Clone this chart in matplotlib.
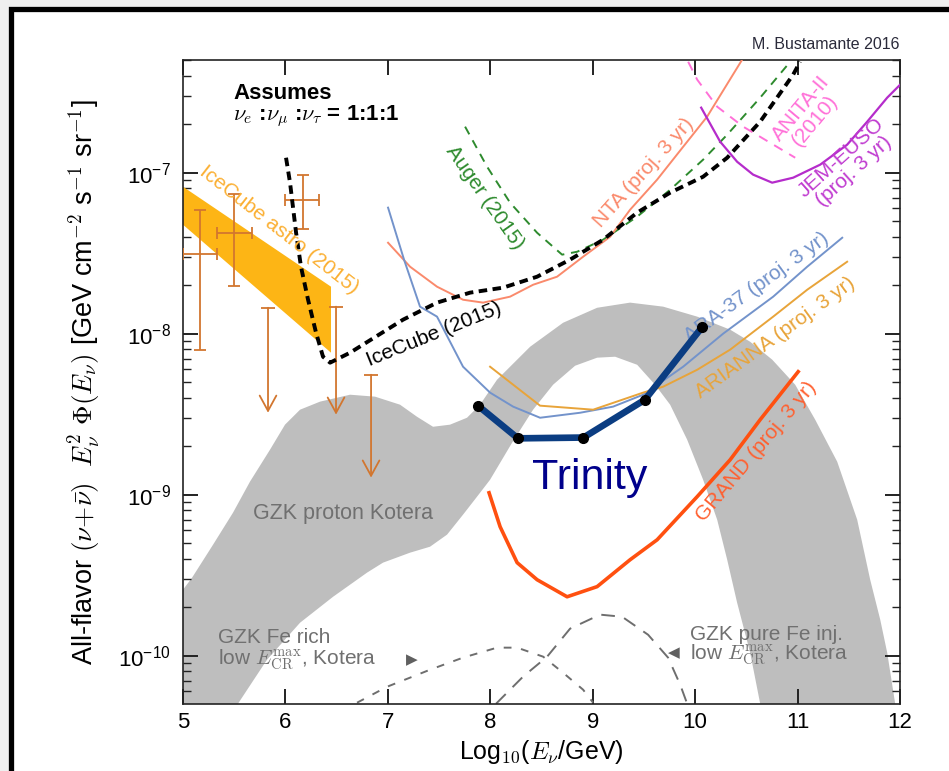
import numpy as np
import matplotlib
matplotlib.use("Agg")
import matplotlib.pyplot as plt
from matplotlib.patches import Rectangle, Polygon
from matplotlib.ticker import FixedLocator, NullLocator, NullFormatter, FuncFormatter

plt.rcParams['font.family'] = ['Liberation Sans', 'DejaVu Sans']
plt.rcParams['mathtext.fontset'] = 'cm'

# all curves: log10(E / GeV) vs log10(E^2 Phi / GeV cm^-2 s^-1 sr^-1)

# GZK proton (Kotera) band: outer edge left->right, then inner edge right->left
gzk_outer_lgE = [5.0, 5.088, 5.293, 5.488, 5.654, 5.850, 5.996, 6.143, 6.338, 6.631,
                 6.875, 7.119, 7.285, 7.441, 7.607, 7.773, 7.900, 8.066, 8.389, 8.711,
                 9.043, 9.365, 9.688, 10.020, 10.342, 10.537, 10.752, 10.977, 11.172,
                 11.387, 11.582, 11.709, 11.807, 11.875, 11.953, 11.98]
gzk_outer_lgF = [-9.590, -9.516, -9.311, -9.112, -8.919, -8.720, -8.565, -8.472, -8.422, -8.379,
                 -8.391, -8.441, -8.516, -8.578, -8.565, -8.522, -8.441, -8.286, -8.081, -7.932,
                 -7.839, -7.807, -7.832, -7.894, -7.975, -8.050, -8.161, -8.317, -8.534,
                 -8.795, -9.155, -9.528, -9.776, -9.981, -10.298, -10.45]
gzk_inner_lgE = [10.66, 10.635, 10.537, 10.410, 10.313, 10.215, 10.078, 9.922, 9.756, 9.609,
                 9.434, 9.219, 9.043, 8.828, 8.613, 8.418, 8.213, 7.998, 7.871, 7.734,
                 7.578, 7.412, 7.217, 6.953, 6.797, 6.465, 6.143, 5.820, 5.537, 5.49, 5.0]
gzk_inner_lgF = [-10.45, -10.298, -9.981, -9.671, -9.404, -9.155, -8.907, -8.658, -8.441, -8.317,
                 -8.193, -8.143, -8.149, -8.199, -8.317, -8.472, -8.677, -8.907, -9.012, -9.124,
                 -9.248, -9.323, -9.360, -9.422, -9.484, -9.634, -9.795, -10.025, -10.298, -10.45, -10.45]

# GZK iron models (Kotera)
fe_rich_lgE = [6.699, 6.992, 7.412, 7.734, 8.066, 8.262, 8.516, 8.711, 8.906, 9.004]
fe_rich_lgF = [-10.292, -10.193, -10.087, -10.012, -9.950, -9.950, -10.006, -10.106, -10.211, -10.292]
fe_pure_lgE = [8.057, 8.320, 8.555, 8.779, 9.072, 9.287, 9.541, 9.736, 9.854, 9.922]
fe_pure_lgF = [-10.298, -10.130, -10.006, -9.832, -9.745, -9.758, -9.870, -10.012, -10.180, -10.298]

# IceCube astrophysical fit band (2015)
astro_upper_lgE = [5.0, 6.445]
astro_upper_lgF = [-7.087, -7.708]
astro_lower_lgE = [6.445, 5.0]
astro_lower_lgF = [-8.118, -7.323]

# IceCube data points and upper limits
ic_lgE = [5.166, 5.498, 6.172]
ic_lgE_lo = [5.0, 5.332, 5.996]
ic_lgE_hi = [5.332, 5.674, 6.328]
ic_lgF = [-7.503, -7.373, -7.168]
ic_lgF_lo = [-8.099, -7.702, -7.348]
ic_lgF_hi = [-7.230, -7.130, -7.012]
ul_lgE = [5.830, 6.494, 6.836]
ul_lgF = [-7.839, -7.832, -8.255]
ul_tip_lgF = [-8.491, -8.503, -8.894]

# IceCube EHE limit (2015)
icecube_lgE = [6.006, 6.045, 6.104, 6.152, 6.221, 6.299, 6.367, 6.436, 6.631, 7.148, 7.480,
               7.803, 8.125, 8.457, 8.779, 9.102, 9.434, 9.756, 10.078, 10.313, 10.635,
               10.957, 11.025]
icecube_lgF = [-6.907, -7.062, -7.373, -7.584, -7.789, -7.994, -8.143, -8.180, -8.118, -7.913,
               -7.807, -7.745, -7.714, -7.646, -7.540, -7.416, -7.248, -7.124, -7.025, -6.907,
               -6.683, -6.391, -6.311]

# Auger (2015)
auger_lgE = [7.754, 7.969, 8.193, 8.457, 8.701, 8.848, 9.102, 9.434, 9.756, 10.078, 10.313,
             10.635, 10.928]
auger_lgF = [-6.714, -6.963, -7.186, -7.373, -7.509, -7.491, -7.416, -7.273, -7.106, -6.919,
             -6.764, -6.534, -6.311]

# NTA (proj. 3 yr)
nta_lgE = [7.002, 7.217, 7.480, 7.734, 7.930, 8.193, 8.418, 8.652, 8.906, 9.170, 9.365,
           9.629, 9.883, 10.117, 10.459]
nta_lgF = [-7.435, -7.584, -7.708, -7.789, -7.807, -7.770, -7.696, -7.646, -7.522, -7.398,
           -7.230, -7.043, -6.839, -6.652, -6.298]

# ARA-37 (proj. 3 yr)
ara_lgE = [7.002, 7.158, 7.314, 7.480, 7.734, 7.998, 8.223, 8.486, 8.877, 9.199, 9.492,
           9.883, 10.273, 10.762, 11.094, 11.436]
ara_lgF = [-7.217, -7.540, -7.832, -7.894, -8.205, -8.366, -8.453, -8.522, -8.491, -8.453,
           -8.379, -8.205, -8.000, -7.770, -7.584, -7.404]

# ARIANNA (proj. 3 yr)
arianna_lgE = [7.998, 8.486, 9.004, 9.492, 9.688, 10.020, 10.342, 10.762, 11.094, 11.484]
arianna_lgF = [-8.205, -8.447, -8.472, -8.366, -8.329, -8.224, -8.099, -7.894, -7.727, -7.553]

# GRAND (proj. 3 yr)
grand_lgE = [7.988, 8.096, 8.262, 8.457, 8.750, 9.043, 9.365, 9.629, 10.020, 10.342,
             10.635, 11.006]
grand_lgF = [-8.988, -9.199, -9.422, -9.528, -9.634, -9.571, -9.404, -9.280, -9.012, -8.783,
             -8.534, -8.236]

# ANITA-II (2010)
anita_lgE = [9.932, 10.020, 10.215, 10.469, 10.732, 10.977]
anita_lgF = [-6.311, -6.422, -6.590, -6.714, -6.814, -6.907]

# JEM-EUSO (proj. 3 yr)
jem_lgE = [10.059, 10.244, 10.410, 10.566, 10.752, 10.957, 11.221, 11.484, 11.680, 11.875, 12.002]
jem_lgF = [-6.596, -6.807, -6.932, -7.012, -7.062, -7.031, -6.950, -6.826, -6.683, -6.534, -6.453]

# Trinity sensitivity
trinity_lgE = [7.88, 8.27, 8.91, 9.51, 10.07]
trinity_lgF = [-8.447, -8.650, -8.645, -8.41, -7.957]

# y-axis decades shown
y_decades = [-10, -9, -8, -7]


def flux(lg):
    return 10.0 ** np.asarray(lg)


fig = plt.figure(figsize=(9.49, 7.71), dpi=100, facecolor='#efefef')
frame = Rectangle((10.5 / 949, -0.05), 1.2, (771 - 9.5) / 771 + 0.05,
                  transform=fig.transFigure, facecolor='white', edgecolor='black',
                  lw=3.8, zorder=-5, clip_on=False)
fig.add_artist(frame)

ax = fig.add_axes([0.19283, 0.08690, 0.75553, 0.83528])
ax.set_yscale('log')
ax.set_xlim(5, 12)
ax.set_ylim(10 ** -10.3, 10 ** -6.3)

# GZK proton band
band = np.column_stack([gzk_outer_lgE + gzk_inner_lgE,
                        flux(gzk_outer_lgF + gzk_inner_lgF)])
ax.add_patch(Polygon(band, closed=True, facecolor='#bebebe', edgecolor='none', zorder=1))

# iron models
ax.plot(fe_rich_lgE, flux(fe_rich_lgF), color='#6e6e6e', lw=1.4, ls=(0, (4, 5)), zorder=2)
ax.plot(fe_pure_lgE, flux(fe_pure_lgF), color='#6e6e6e', lw=1.4, ls=(0, (7, 5)), zorder=2)

# IceCube astrophysical band
astro = np.column_stack([astro_upper_lgE + astro_lower_lgE,
                         flux(astro_upper_lgF + astro_lower_lgF)])
ax.add_patch(Polygon(astro, closed=True, facecolor='#fdb515', edgecolor='none', zorder=2))

# IceCube data
err_col = '#d2762f'
y = flux(ic_lgF)
yerr = [y - flux(ic_lgF_lo), flux(ic_lgF_hi) - y]
xerr = [np.subtract(ic_lgE, ic_lgE_lo), np.subtract(ic_lgE_hi, ic_lgE)]
ax.errorbar(ic_lgE, y, xerr=xerr, yerr=yerr, fmt='none', ecolor=err_col,
            elinewidth=1.3, capsize=4, capthick=1.3, zorder=4)
for e, top, tip in zip(ul_lgE, ul_lgF, ul_tip_lgF):
    ax.annotate('', xy=(e, 10 ** tip), xytext=(e, 10 ** top),
                arrowprops=dict(arrowstyle='->,head_length=0.55,head_width=0.3',
                                color=err_col, lw=1.3, shrinkA=0, shrinkB=0,
                                mutation_scale=20), zorder=4)
    ax.plot([e], [10 ** top], marker='_', ms=10, mew=1.3, color=err_col, zorder=4)

# experiments
ax.plot(auger_lgE, flux(auger_lgF), color='#2e8b2e', lw=1.4, ls=(0, (4.5, 3.5)), zorder=3)
ax.plot(nta_lgE, flux(nta_lgF), color='#fa8a6c', lw=1.4, zorder=3)
ax.plot(ara_lgE, flux(ara_lgF), color='#7393cb', lw=1.4, zorder=3)
ax.plot(arianna_lgE, flux(arianna_lgF), color='#e8a43a', lw=1.4, zorder=3)
ax.plot(grand_lgE, flux(grand_lgF), color='#ff5010', lw=2.6, zorder=3)
ax.plot(anita_lgE, flux(anita_lgF), color='#ff70d8', lw=1.4, ls=(0, (5, 4)), zorder=3)
ax.plot(jem_lgE, flux(jem_lgF), color='#b52ccb', lw=1.6, zorder=3)
ax.plot(icecube_lgE, flux(icecube_lgF), color='black', lw=2.8, ls=(0, (2.2, 1.4)), zorder=5)

# Trinity
ax.plot(trinity_lgE, flux(trinity_lgF), color='#0b3d82', lw=4.8, zorder=8,
        marker='o', ms=7, mfc='black', mec='black', solid_capstyle='round',
        solid_joinstyle='round')
ax.text(8.975, 10 ** -8.894, 'Trinity', color='#00008b', fontsize=31,
        ha='center', va='center', zorder=9)

# curve labels
lab = dict(ha='center', va='center', rotation_mode='anchor', zorder=6)
ax.text(5.94, 10 ** -7.354, 'IceCube astro (2015)', color='#fbb034', fontsize=15,
        rotation=-38, **lab)
ax.text(7.45, 10 ** -8.006, 'IceCube (2015)', color='black', fontsize=15, rotation=22, **lab)
ax.text(7.95, 10 ** -7.155, 'Auger (2015)', color='#2e8b2e', fontsize=15, rotation=-55, **lab)
ax.text(9.50, 10 ** -7.0, 'NTA (proj. 3 yr)', color='#fa8a6c', fontsize=15, rotation=48, **lab)
ax.text(10.60, 10 ** -7.714, 'ARA-37 (proj. 3 yr)', color='#7393cb', fontsize=15,
        rotation=36, **lab)
ax.text(10.78, 10 ** -8.025, 'ARIANNA (proj. 3 yr)', color='#e8a43a', fontsize=15,
        rotation=36, **lab)
ax.text(10.60, 10 ** -8.733, 'GRAND (proj. 3 yr)', color='#ff6030', fontsize=15,
        rotation=50, **lab)
ax.text(11.10, 10 ** -6.64, 'ANITA-II\n(2010)', color='#ff70d8', fontsize=15,
        rotation=50, multialignment='center', linespacing=0.95, **lab)
ax.text(11.49, 10 ** -6.95, 'JEM-EUSO\n(proj. 3 yr)', color='#c03bd0', fontsize=15,
        rotation=42, multialignment='center', linespacing=0.95, **lab)

gzk_col = '#707070'
ax.text(6.5625, 10 ** -9.118, 'GZK proton Kotera', color=gzk_col, fontsize=15.5,
        ha='center', va='center', zorder=6)
ax.text(5.342, 10 ** -9.826, 'GZK Fe rich', color=gzk_col, fontsize=15, ha='left', va='top')
ax.text(5.342, 10 ** -10.056, r'low $E_{\rm CR}^{\rm max}$, Kotera', color=gzk_col,
        fontsize=15, ha='left', va='baseline')
ax.text(7.236, 10 ** -10.025, '\u25b6', color='#606060', fontsize=11, family='DejaVu Sans',
        ha='center', va='center')
ax.text(9.951, 10 ** -9.807, 'GZK pure Fe inj.', color=gzk_col, fontsize=15, ha='left', va='top')
ax.text(9.951, 10 ** -10.025, r'low $E_{\rm CR}^{\rm max}$, Kotera', color=gzk_col,
        fontsize=15, ha='left', va='baseline')
ax.text(9.795, 10 ** -9.981, '\u25c0', color='#606060', fontsize=11, family='DejaVu Sans',
        ha='center', va='center')

ax.text(5.488, 10 ** -6.540, 'Assumes', fontsize=16, fontweight='bold', ha='left',
        va='baseline')
ax.text(5.488, 10 ** -6.671, r'$\nu_e$ :$\nu_\mu$ :$\nu_\tau$ = 1:1:1', fontsize=16,
        fontweight='bold', ha='left', va='baseline')
ax.text(1.0, 1.012, 'M. Bustamante 2016', transform=ax.transAxes, fontsize=11.5,
        color='#2a2a3a', ha='right', va='bottom')

# axes styling
ax.set_xticks(range(5, 13))
ax.xaxis.set_minor_locator(NullLocator())
ax.yaxis.set_major_locator(FixedLocator([10.0 ** d for d in y_decades]))
ax.yaxis.set_minor_locator(FixedLocator(
    [m * 10.0 ** d for d in [-11] + y_decades for m in range(2, 10)
     if 10 ** -10.3 <= m * 10.0 ** d <= 10 ** -6.3]))
ax.yaxis.set_minor_formatter(NullFormatter())
ax.yaxis.set_major_formatter(FuncFormatter(
    lambda v, _: r'$\mathregular{10^{%d}}$' % round(np.log10(v))))
ax.tick_params(which='both', direction='in', top=True, right=True, colors='#222222',
               labelcolor='black')
ax.tick_params(which='major', length=11, width=1.4, labelsize=16)
ax.tick_params(axis='y', which='major', pad=9)
ax.tick_params(axis='x', which='major', pad=6)
ax.tick_params(which='minor', length=6, width=1.0)
for s in ax.spines.values():
    s.set_linewidth(1.2)
    s.set_color('#222222')

ax.set_xlabel(r'Log$_{10}$($E_\nu$/GeV)', fontsize=18, labelpad=3)
ax.set_ylabel(r'All-flavor $(\nu\!+\!\bar{\nu})$  $E_\nu^2\ \Phi(E_\nu)$ '
              r'[GeV cm$^{-2}$ s$^{-1}$ sr$^{-1}$]', fontsize=19.5)
ax.yaxis.set_label_coords(-0.112, 0.5)

fig.savefig('out.png', dpi=100, facecolor=fig.get_facecolor())
